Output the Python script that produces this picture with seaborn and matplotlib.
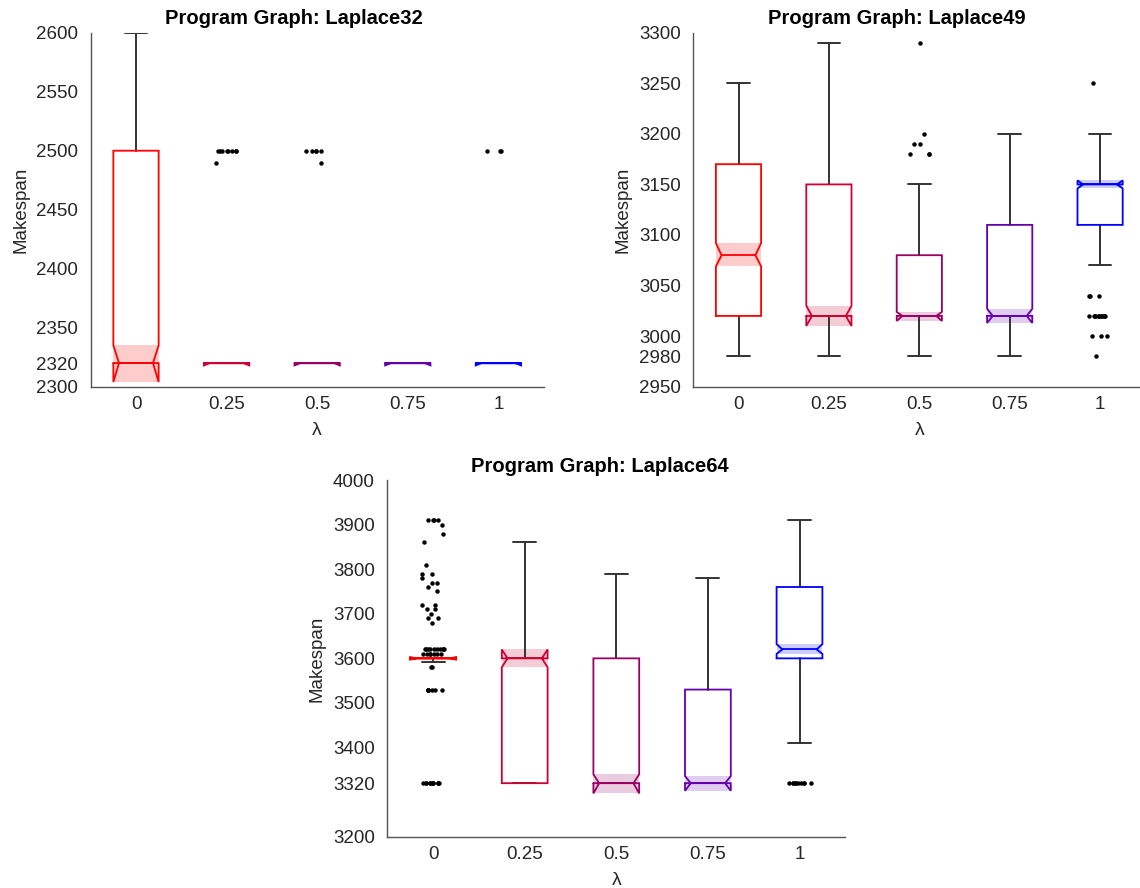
import numpy as np
import pandas as pd
import matplotlib
matplotlib.use("Agg")
import matplotlib.pyplot as plt
import seaborn as sns

# ---------------- data ----------------
lambdas = ["0", "0.25", "0.5", "0.75", "1"]
box_colors = ["#FF0000", "#CC0033", "#990066", "#6600AA", "#0000FF"]

# Laplace32
l32_med = [2320, 2320, 2320, 2320, 2320]
l32_q1 = [2320, 2320, 2320, 2320, 2320]
l32_q3 = [2500, 2320, 2320, 2320, 2320]
l32_whislo = [2320, 2320, 2320, 2320, 2320]
l32_whishi = [2600, 2320, 2320, 2320, 2320]
l32_notch_lo = [2304, 2318, 2318, 2318, 2318]
l32_notch_hi = [2335, 2320, 2320, 2320, 2320]
l32_out_0 = []
l32_out_025 = [2500, 2500, 2500, 2500, 2500, 2500, 2500, 2500, 2490]
l32_out_05 = [2500, 2500, 2500, 2500, 2500, 2490]
l32_out_075 = []
l32_out_1 = [2500, 2500, 2500]
l32_yticks = [2300, 2320, 2350, 2400, 2450, 2500, 2550, 2600]

# Laplace49
l49_med = [3080, 3020, 3020, 3020, 3150]
l49_q1 = [3020, 3020, 3020, 3020, 3110]
l49_q3 = [3170, 3150, 3080, 3110, 3150]
l49_whislo = [2980, 2980, 2980, 2980, 3070]
l49_whishi = [3250, 3290, 3150, 3200, 3200]
l49_notch_lo = [3069, 3010, 3015, 3013, 3146]
l49_notch_hi = [3092, 3030, 3024, 3027, 3154]
l49_out_0 = []
l49_out_025 = []
l49_out_05 = [3290, 3200, 3190, 3190, 3180, 3180, 3180]
l49_out_075 = []
l49_out_1 = [3250, 3040, 3040, 3040,
             3020, 3020, 3020, 3020, 3020, 3020, 3020, 3020, 3020, 3020, 3020, 3020,
             3000, 3000, 3000, 2980]
l49_yticks = [2950, 2980, 3000, 3050, 3100, 3150, 3200, 3250, 3300]

# Laplace64
l64_med = [3600, 3600, 3320, 3320, 3620]
l64_q1 = [3600, 3320, 3320, 3320, 3600]
l64_q3 = [3600, 3600, 3600, 3530, 3760]
l64_whislo = [3591, 3320, 3320, 3320, 3410]
l64_whishi = [3600, 3860, 3790, 3780, 3910]
l64_notch_lo = [3597, 3580, 3297, 3303, 3610]
l64_notch_hi = [3603, 3620, 3340, 3336, 3632]
l64_out_0 = [3910, 3910, 3910, 3910, 3900, 3880, 3860, 3810, 3790, 3790, 3780,
             3770, 3770, 3760, 3750, 3720, 3720, 3710, 3710, 3700, 3690, 3690, 3680,
             3620, 3620, 3620, 3620, 3620, 3620, 3620, 3620, 3620, 3620,
             3610, 3610, 3610, 3610, 3610, 3610, 3610,
             3580, 3580,
             3530, 3530, 3530, 3530, 3530, 3530, 3530,
             3320, 3320, 3320, 3320, 3320, 3320, 3320, 3320, 3320, 3320, 3320, 3320]
l64_out_025 = []
l64_out_05 = []
l64_out_075 = []
l64_out_1 = [3320, 3320, 3320, 3320, 3320, 3320, 3320, 3320, 3320, 3320]
l64_yticks = [3200, 3320, 3400, 3500, 3600, 3700, 3800, 3900, 4000]

# ---------------- style ----------------
sns.set_style("white")
plt.rcParams["font.family"] = ["Liberation Sans", "DejaVu Sans"]

W, H = 1140, 888
fig = plt.figure(figsize=(W / 100, H / 100), dpi=100)

SPINE = "#555555"
WHISK = "#333333"
TXT = "#262626"


def draw_panel(rect, title, title_x, med, q1, q3, wlo, whi, nlo, nhi, outs, yticks):
    ax = fig.add_axes(rect)
    bw = 0.5
    for i in range(len(lambdas)):
        c = box_colors[i]
        left, right = i - bw / 2, i + bw / 2
        il, ir = i - bw * 0.375, i + bw * 0.375
        ax.fill_between([left, right], [nlo[i]] * 2, [nhi[i]] * 2,
                        color=c, alpha=0.2, lw=0, zorder=1)
        # whiskers and caps
        ax.plot([i, i], [q3[i], whi[i]], color=WHISK, lw=1.4, zorder=2)
        ax.plot([i, i], [q1[i], wlo[i]], color=WHISK, lw=1.4, zorder=2)
        ax.plot([i - bw / 4, i + bw / 4], [whi[i]] * 2, color=WHISK, lw=1.4, zorder=2)
        ax.plot([i - bw / 4, i + bw / 4], [wlo[i]] * 2, color=WHISK, lw=1.4, zorder=2)
        # notched box outline
        xs = [left, left, il, left, left, right, right, ir, right, right, left]
        ys = [q1[i], nlo[i], med[i], nhi[i], q3[i], q3[i], nhi[i], med[i], nlo[i], q1[i], q1[i]]
        ax.plot(xs, ys, color=c, lw=1.3, zorder=3, solid_joinstyle="miter")
        ax.plot([il, ir], [med[i], med[i]], color=c, lw=1.3, zorder=3)

    df = pd.DataFrame([(lam, v) for lam, vals in zip(lambdas, outs) for v in vals],
                      columns=["lam", "val"])
    np.random.seed(3)
    sns.stripplot(data=df, x="lam", y="val", order=lambdas, color="black",
                  size=3.2, jitter=0.13, linewidth=0, ax=ax, zorder=4)

    ax.set_xlim(-0.5, 4.5)
    ax.set_ylim(yticks[0], yticks[-1])
    ax.set_xticks(range(len(lambdas)))
    ax.set_xticklabels(lambdas)
    ax.set_yticks(yticks)
    ax.set_yticklabels([str(t) for t in yticks])
    for s in ["top", "right"]:
        ax.spines[s].set_visible(False)
    for s in ["left", "bottom"]:
        ax.spines[s].set_color(SPINE)
        ax.spines[s].set_linewidth(1.0)
    ax.tick_params(direction="in", length=4, width=1, color=SPINE,
                   labelsize=13.5, labelcolor=TXT)
    ax.tick_params(axis="x", pad=7)
    ax.tick_params(axis="y", pad=9)
    ax.set_xlabel("λ", fontsize=14, color=TXT, labelpad=6)
    ax.set_ylabel("Makespan", fontsize=13.5, color=TXT, labelpad=5)
    ax.set_title(title, fontsize=14.5, fontweight="bold", color="black", pad=6, x=title_x)
    ax.grid(False)
    return ax


draw_panel([90.7 / W, 1 - 386.7 / H, 453 / W, 354 / H], "Program Graph: Laplace32", 0.449,
           l32_med, l32_q1, l32_q3, l32_whislo, l32_whishi, l32_notch_lo, l32_notch_hi,
           [l32_out_0, l32_out_025, l32_out_05, l32_out_075, l32_out_1], l32_yticks)
draw_panel([693.3 / W, 1 - 386.7 / H, 452 / W, 354 / H], "Program Graph: Laplace49", 0.451,
           l49_med, l49_q1, l49_q3, l49_whislo, l49_whishi, l49_notch_lo, l49_notch_hi,
           [l49_out_0, l49_out_025, l49_out_05, l49_out_075, l49_out_1], l49_yticks)
draw_panel([387.3 / W, 1 - 836.7 / H, 458 / W, 356.7 / H], "Program Graph: Laplace64", 0.464,
           l64_med, l64_q1, l64_q3, l64_whislo, l64_whishi, l64_notch_lo, l64_notch_hi,
           [l64_out_0, l64_out_025, l64_out_05, l64_out_075, l64_out_1], l64_yticks)

fig.savefig("out.png", dpi=100)
